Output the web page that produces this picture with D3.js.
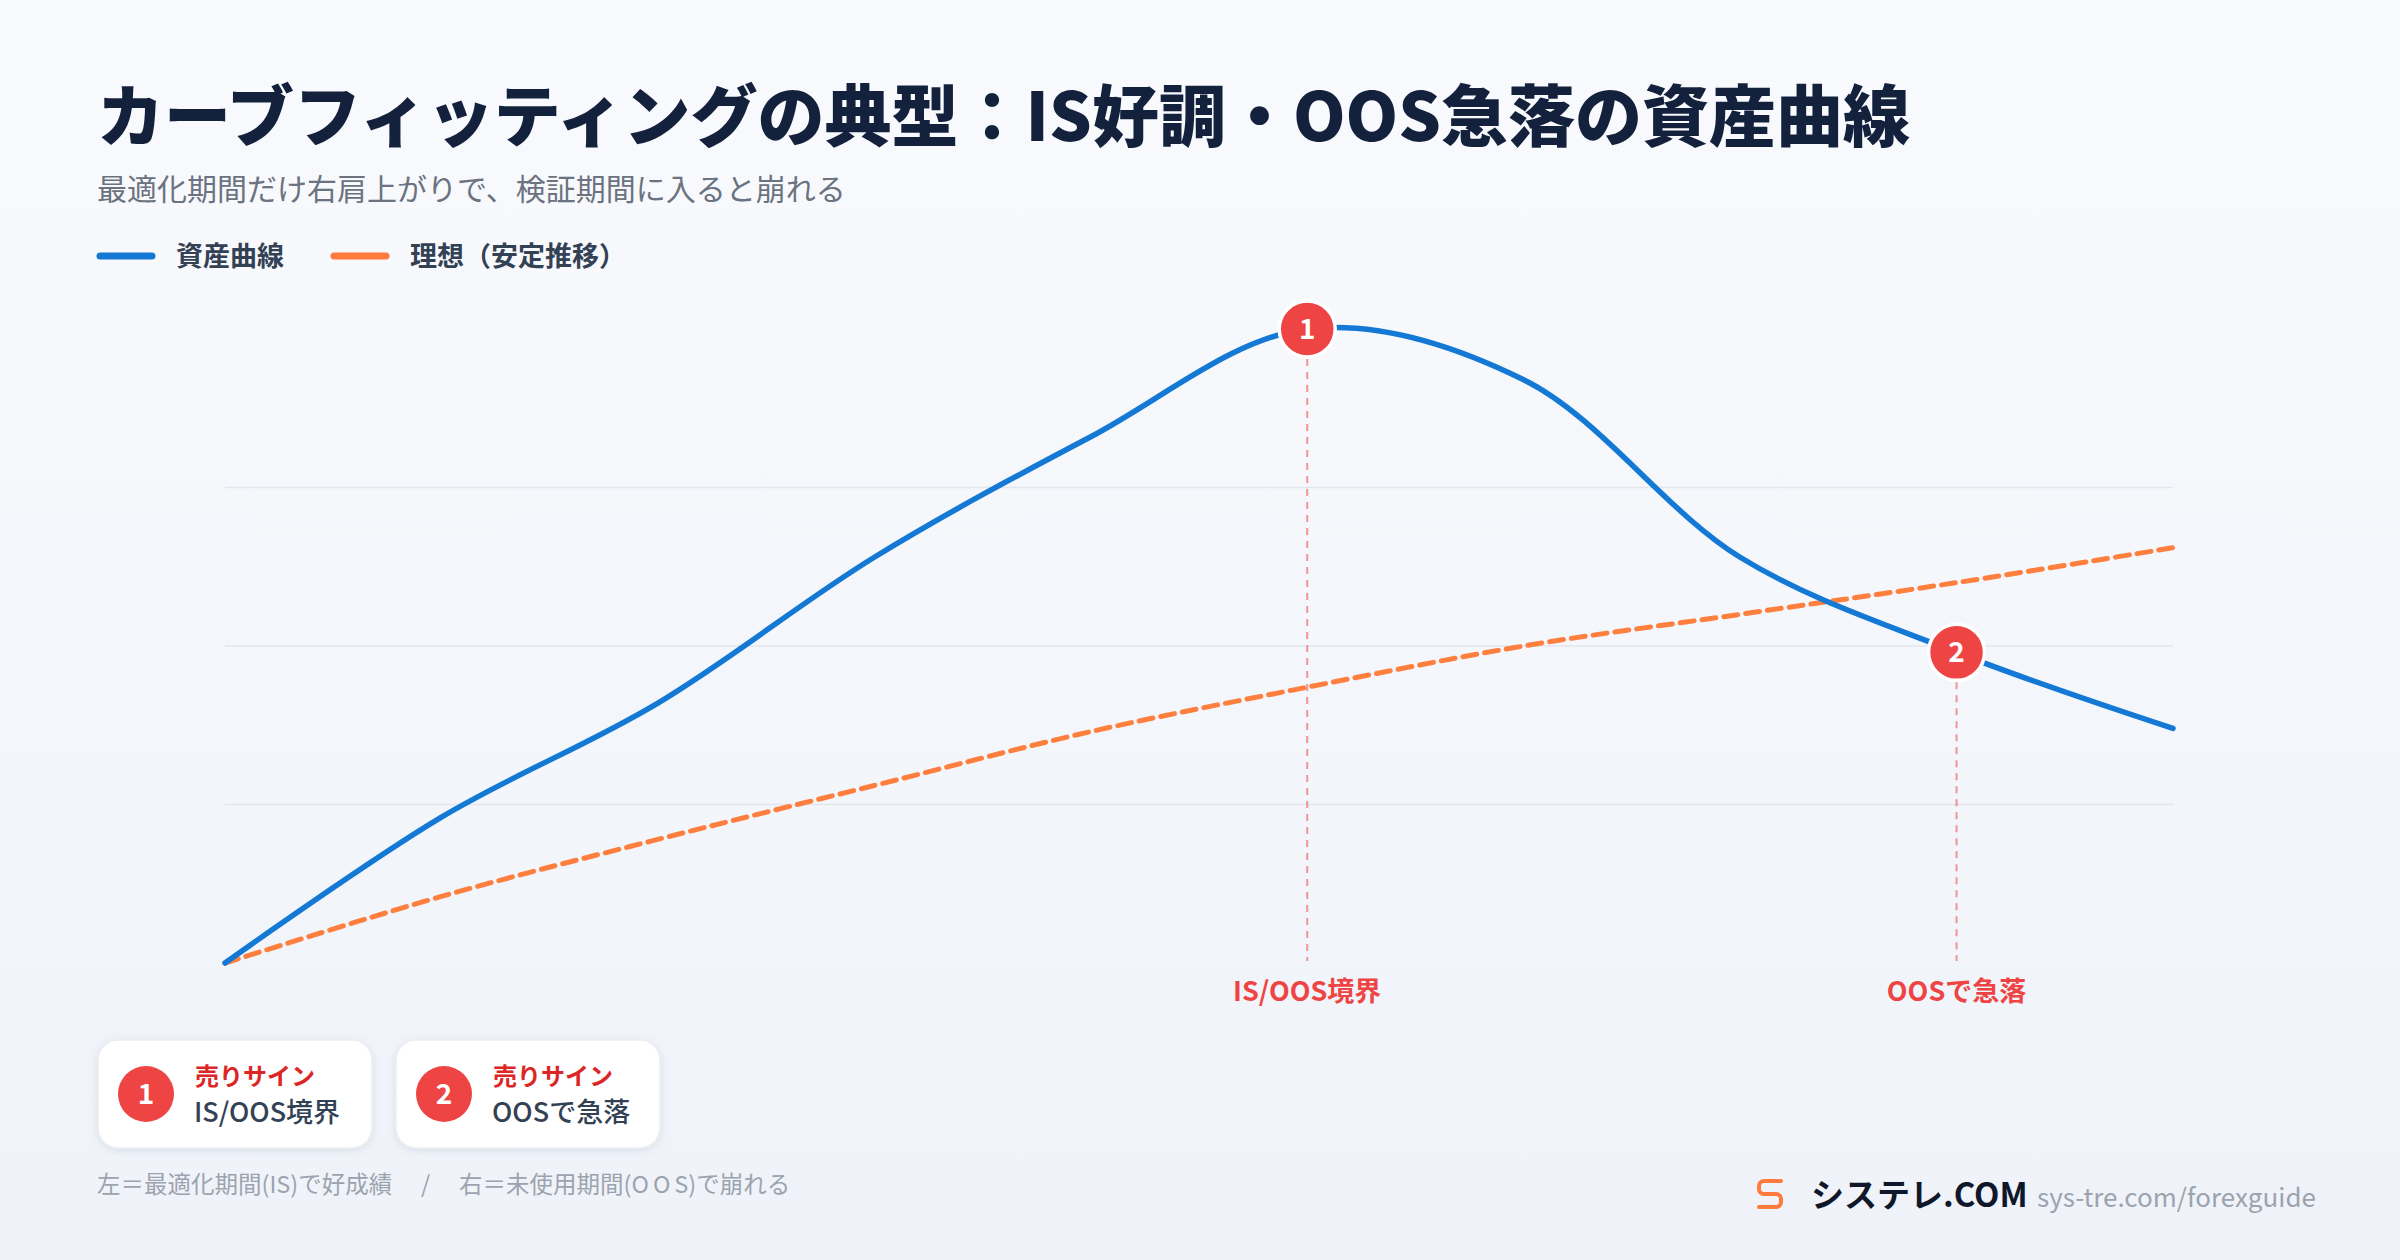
<!DOCTYPE html>
<html><head><meta charset="utf-8">
<script src="https://cdn.jsdelivr.net/npm/d3@7"></script>
<style>
html,body{margin:0;padding:0;}
body{width:2400px;height:1260px;overflow:hidden;}
text{font-family:"Noto Sans CJK JP","Noto Sans",sans-serif;}
</style></head>
<body>
<svg id="chart" width="2400" height="1260"></svg>
<script>
// ---- data ----
const periods = [0,1,2,3,4,5,6,7,8,9];
const equityCurve = [0,23,41,64,83,100,92,64,49,37];
const idealCurve = [0,10.5,19.5,28,36.5,43.5,50,55,60,65.5];
const gridTicks = [25,50,75];
const markerIdx = [5,8];
const markerNums = ["1","2"];
const markerLabels = ["IS/OOS境界","OOSで急落"];
const cardTitles = ["売りサイン","売りサイン"];
const cardTexts = ["IS/OOS境界","OOSで急落"];
const legendNames = ["資産曲線","理想（安定推移）"];

const svg = d3.select("#chart");
const W = 2400, H = 1260;
const defs = svg.append("defs");
const bg = defs.append("linearGradient").attr("id","bg").attr("x1",0).attr("y1",0).attr("x2",0).attr("y2",1);
bg.append("stop").attr("offset","0%").attr("stop-color","#f9fafd");
bg.append("stop").attr("offset","100%").attr("stop-color","#eff3f9");
const sh = defs.append("filter").attr("id","sh").attr("x","-20%").attr("y","-30%").attr("width","140%").attr("height","160%");
sh.append("feDropShadow").attr("dx",0).attr("dy",2).attr("stdDeviation",4).attr("flood-color","#94a3b8").attr("flood-opacity",0.25);

svg.append("rect").attr("width",W).attr("height",H).attr("fill","url(#bg)");

// titles
svg.append("text").attr("x",97).attr("y",141).attr("font-size",67).attr("font-weight",900)
  .attr("fill","#14213d").text("カーブフィッティングの典型：IS好調・OOS急落の資産曲線");
svg.append("text").attr("x",97).attr("y",200).attr("font-size",30).attr("font-weight",400)
  .attr("fill","#6b7280").text("最適化期間だけ右肩上がりで、検証期間に入ると崩れる");

// legend
const legColors = ["#1479d4","#ff7a3d"];
const legX = [98,332];
legendNames.forEach((n,i)=>{
  svg.append("line").attr("x1",legX[i]+2).attr("x2",legX[i]+54).attr("y1",256).attr("y2",256)
    .attr("stroke",legColors[i]).attr("stroke-width",7).attr("stroke-linecap","round");
  svg.append("text").attr("x",legX[i]+78).attr("y",266).attr("font-size",27).attr("font-weight",700)
    .attr("fill","#334155").text(n);
});

// scales
const x = d3.scaleLinear().domain([0,9]).range([225,2173]);
const y = d3.scaleLinear().domain([0,100]).range([963,329]);

// grid
svg.append("g").selectAll("line").data(gridTicks).join("line")
  .attr("x1",225).attr("x2",2173).attr("y1",d=>y(d)).attr("y2",d=>y(d))
  .attr("stroke","#e3e6ec").attr("stroke-width",1.5);

// marker guide lines
svg.append("g").selectAll("line").data(markerIdx).join("line")
  .attr("x1",d=>x(d)).attr("x2",d=>x(d)).attr("y1",d=>y(equityCurve[d])+30).attr("y2",961)
  .attr("stroke","#ef4444").attr("stroke-opacity",0.55).attr("stroke-width",2).attr("stroke-dasharray","7 6");

// lines
const lineGen = d3.line().x((d,i)=>x(periods[i])).y(d=>y(d)).curve(d3.curveCatmullRom.alpha(0.5));
svg.append("path").datum(idealCurve).attr("d",lineGen).attr("fill","none")
  .attr("stroke","#ff7f3f").attr("stroke-width",5).attr("stroke-dasharray","14 8").attr("stroke-linecap","round");
svg.append("path").datum(equityCurve).attr("d",lineGen).attr("fill","none")
  .attr("stroke","#1479d4").attr("stroke-width",5.5).attr("stroke-linecap","round").attr("stroke-linejoin","round");

// markers
const mk = svg.append("g").selectAll("g").data(markerIdx).join("g")
  .attr("transform",d=>`translate(${x(d)},${y(equityCurve[d])})`);
mk.append("circle").attr("r",28).attr("fill","#ef4444").attr("stroke","#fff").attr("stroke-width",3.5);
mk.append("text").attr("text-anchor","middle").attr("dy",10).attr("font-size",28).attr("font-weight",700)
  .attr("fill","#fff").attr("font-family","'Noto Sans',sans-serif").text((d,i)=>markerNums[i]);
svg.append("g").selectAll("text").data(markerIdx).join("text")
  .attr("x",d=>x(d)).attr("y",1001).attr("text-anchor","middle").attr("font-size",27).attr("font-weight",700)
  .attr("fill","#ef4444").text((d,i)=>markerLabels[i]);

// cards
const cardX = [98,396], cardW = [274,264];
cardTitles.forEach((t,i)=>{
  const g = svg.append("g").attr("transform",`translate(${cardX[i]},1040)`);
  g.append("rect").attr("width",cardW[i]).attr("height",108).attr("rx",20)
    .attr("fill","#fff").attr("stroke","#eceef2").attr("stroke-width",1.5).attr("filter","url(#sh)");
  g.append("circle").attr("cx",48).attr("cy",54).attr("r",28).attr("fill","#ef4444");
  g.append("text").attr("x",48).attr("y",64).attr("text-anchor","middle").attr("font-size",28).attr("font-weight",700)
    .attr("fill","#fff").attr("font-family","'Noto Sans',sans-serif").text(markerNums[i]);
  g.append("text").attr("x",97).attr("y",45).attr("font-size",24).attr("font-weight",700).attr("fill","#dc2626").text(t);
  g.append("text").attr("x",96).attr("y",82).attr("font-size",27).attr("font-weight",500).attr("fill","#334155").text(cardTexts[i]);
});

// footnote
const fn = svg.append("text").attr("x",97).attr("y",1193).attr("font-size",23.5).attr("fill","#9ca3af")
  .attr("xml:space","preserve");
fn.append("tspan").text("左＝最適化期間(IS)で好成績　 /　 右＝未使用期間(");
fn.append("tspan").attr("letter-spacing",4).text("OO");
fn.append("tspan").text("S)で崩れる");

// branding
svg.append("path").attr("d","M1781,1181 H1764 a5,5 0 0 0 -5,5 v3 a5,5 0 0 0 5,5 h12 a5,5 0 0 1 5,5 v3 a5,5 0 0 1 -5,5 H1759")
  .attr("fill","none").attr("stroke","#ff7a3d").attr("stroke-width",4).attr("stroke-linecap","round");
svg.append("text").attr("x",1811).attr("y",1207).attr("font-size",33).attr("font-weight",700)
  .attr("fill","#0f172a").text("システレ.COM");
svg.append("text").attr("x",2037).attr("y",1207).attr("font-size",26).attr("font-weight",400)
  .attr("fill","#9ca3af").attr("font-family","Inter,'Noto Sans',sans-serif").text("sys-tre.com/forexguide");
</script>
</body></html>
